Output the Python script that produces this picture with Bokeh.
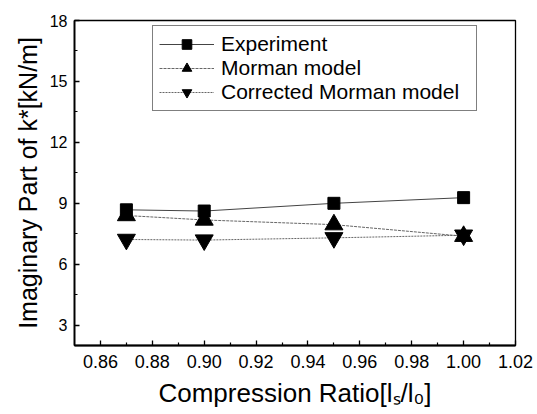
from bokeh.plotting import figure
from bokeh.models import FixedTicker, Range1d, Legend, LegendItem, CustomJSTickFormatter
from bokeh.embed import file_html
from bokeh.resources import INLINE

# ---- data ----
ratio = [0.87, 0.90, 0.95, 1.00]
experiment = [8.68, 8.62, 9.00, 9.28]
morman = [8.40, 8.18, 7.95, 7.38]
corrected = [7.22, 7.19, 7.30, 7.43]

x_ticks = [0.86, 0.88, 0.90, 0.92, 0.94, 0.96, 0.98, 1.00, 1.02]
x_minor = [0.87, 0.89, 0.91, 0.93, 0.95, 0.97, 0.99, 1.01]
y_ticks = [3, 6, 9, 12, 15, 18]
y_minor = [4.5, 7.5, 10.5, 13.5, 16.5]

x_label = "Compression Ratio[l\u209b/l\u2080]"
y_label = "Imaginary Part of k*[kN/m]"
names = ["Experiment", "Morman model", "Corrected Morman model"]

FONT = "Liberation Sans"

p = figure(width=537, height=414, output_backend="svg", toolbar_location=None,
           x_range=Range1d(0.85, 1.02), y_range=Range1d(2, 18),
           min_border_left=74, min_border_right=22, min_border_top=20, min_border_bottom=69)
p.background_fill_color = "white"
p.border_fill_color = "white"
p.grid.visible = False
p.outline_line_color = "black"
p.outline_line_width = 1.3

for ax in (p.xaxis[0], p.yaxis[0]):
    ax.axis_line_width = 1.8
    ax.axis_line_color = "black"
    ax.major_tick_in = 5
    ax.major_tick_out = 0
    ax.minor_tick_in = 3
    ax.minor_tick_out = 0
    ax.major_tick_line_width = 1.3
    ax.minor_tick_line_width = 1.2
    ax.major_label_text_font = FONT
    ax.axis_label_text_font = FONT
    ax.axis_label_text_font_style = "normal"
    ax.major_label_text_color = "black"
    ax.axis_label_text_color = "black"

p.xaxis[0].ticker = FixedTicker(ticks=x_ticks, minor_ticks=x_minor)
p.yaxis[0].ticker = FixedTicker(ticks=y_ticks, minor_ticks=y_minor)
p.xaxis[0].formatter = CustomJSTickFormatter(code="return tick.toFixed(2);")
p.yaxis[0].formatter = CustomJSTickFormatter(code="return tick.toFixed(0);")
p.xaxis[0].major_label_text_font_size = "18px"
p.yaxis[0].major_label_text_font_size = "16px"
p.xaxis[0].major_label_standoff = 9
p.yaxis[0].major_label_standoff = 7
p.xaxis[0].axis_label = x_label
p.yaxis[0].axis_label = y_label
p.xaxis[0].axis_label_text_font_size = "26px"
p.yaxis[0].axis_label_text_font_size = "25px"
p.xaxis[0].axis_label_standoff = 7
p.yaxis[0].axis_label_standoff = 5

l1 = p.line(ratio, experiment, line_color="#444444", line_width=1)
m1 = p.scatter(ratio, experiment, marker="square", size=12, fill_color="black", line_color="black")
l2 = p.line(ratio, morman, line_color="#666666", line_width=1, line_dash="3 1")
m2 = p.scatter(ratio, morman, marker="triangle", size=18, fill_color="black", line_color="black")
l3 = p.line(ratio, corrected, line_color="#666666", line_width=1, line_dash="2 1")
m3 = p.scatter(ratio, corrected, marker="inverted_triangle", size=18, fill_color="black", line_color="black")

legend = Legend(items=[LegendItem(label=names[0], renderers=[l1, m1]),
                       LegendItem(label=names[1], renderers=[l2, m2]),
                       LegendItem(label=names[2], renderers=[l3, m3])],
                location=(78, 234))
legend.label_text_font = FONT
legend.label_text_font_size = "21px"
legend.label_text_color = "black"
legend.border_line_color = "black"
legend.border_line_width = 1
legend.background_fill_alpha = 1
legend.glyph_width = 55
legend.glyph_height = 24
legend.label_height = 24
legend.label_width = 249
legend.label_standoff = 7
legend.spacing = 0
legend.padding = 6
legend.margin = 0
p.add_layout(legend)

open("out.html", "w").write(file_html(p, INLINE))
